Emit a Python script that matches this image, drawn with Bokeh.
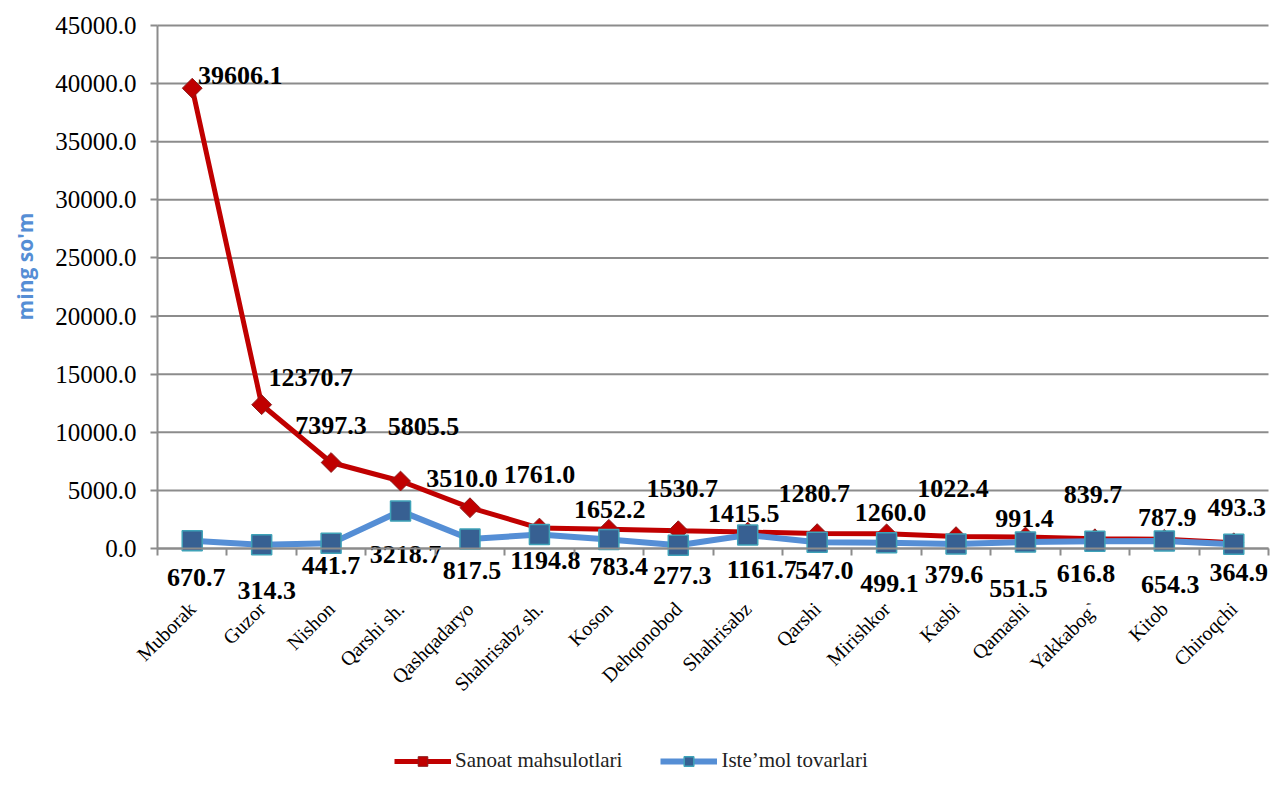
import numpy as np
from bokeh.plotting import figure
from bokeh.models import (FixedTicker, NumeralTickFormatter, Legend, LegendItem,
                          Range1d, ColumnDataSource)
from bokeh.core.properties import value
from bokeh.embed import file_html
from bokeh.resources import INLINE

# ---- data ----
districts = ["Muborak", "Guzor", "Nishon", "Qarshi sh.", "Qashqadaryo", "Shahrisabz sh.",
             "Koson", "Dehqonobod", "Shahrisabz", "Qarshi", "Mirishkor", "Kasbi",
             "Qamashi", "Yakkabog`", "Kitob", "Chiroqchi"]
sanoat = [39606.1, 12370.7, 7397.3, 5805.5, 3510.0, 1761.0, 1652.2, 1530.7,
          1415.5, 1280.7, 1260.0, 1022.4, 991.4, 839.7, 787.9, 493.3]
istemol = [670.7, 314.3, 441.7, 3218.7, 817.5, 1194.8, 783.4, 277.3,
           1161.7, 547.0, 499.1, 379.6, 551.5, 616.8, 654.3, 364.9]
y_ticks = [0, 5000, 10000, 15000, 20000, 25000, 30000, 35000, 40000, 45000]
series_names = ["Sanoat mahsulotlari", "Iste\u2019mol tovarlari"]
y_title = "ming so'm"

# ---- label placement (screen px offsets, style only) ----
red_dx = [48, 49, 0, 23, -8, 0, 1, 4, -4, -3, 4, -3, -1, -2, 3, 3]
red_dy = [-13, -27, -37, -55, -29, -54, -20, -42, -19, -40, -21, -48, -18, -44, -22, -35]
blue_dx = [4, 5, 0, 5, 2, 6, 10, 4, 14, 7, 3, -2, -7, -9, 6, 5]
blue_dy = [37, 46, 22, 43, 32, 26, 27, 30, 35, 28, 41, 30, 46, 32, 44, 28]

RED = "#C00000"
BLUE = "#558ED5"
GRID = "#8C8C8C"
SERIF = "'Liberation Serif', serif"

# layout (pixels): plot box of the original chart
W, H = 1271, 773
LEFT, RIGHT, TOP, ZERO = 157, 1268, 25, 548
n = len(districts)
y_max = y_ticks[-1]
sx = (RIGHT - LEFT) / n            # px per category
sy = (ZERO - TOP) / y_max          # px per unit
x_lo, x_hi = -LEFT / sx, (W - LEFT) / sx
y_lo, y_hi = -(H - ZERO) / sy, y_max + TOP / sy

xs = [i + 0.5 for i in range(n)]

src = ColumnDataSource(dict(
    x=xs, s=sanoat, t=istemol,
    s_lab=[f"{v:.1f}" for v in sanoat], t_lab=[f"{v:.1f}" for v in istemol],
    rdx=red_dx, rdy=red_dy, bdx=blue_dx, bdy=blue_dy,
))

p = figure(width=W, height=H, output_backend="svg", toolbar_location=None,
           x_range=Range1d(x_lo, x_hi), y_range=Range1d(y_lo, y_hi),
           min_border_left=0, min_border_right=0, min_border_top=0,
           min_border_bottom=0)
p.outline_line_color = None
p.background_fill_color = "white"
p.xgrid.visible = False
p.ygrid.visible = False

# horizontal gridlines across the category span
p.segment(x0=[0] * len(y_ticks), x1=[n] * len(y_ticks), y0=y_ticks, y1=y_ticks,
          line_color=GRID, line_width=2)

# lines + markers
r_line = p.line("x", "s", source=src, line_color=RED, line_width=5)
r_mark = p.scatter("x", "s", source=src, marker="square", angle=np.pi / 4, size=14,
                   fill_color=RED, line_color="#8B1A1A", line_width=1)
b_line = p.line("x", "t", source=src, line_color=BLUE, line_width=6)
b_mark = p.scatter("x", "t", source=src, marker="square", size=20,
                   fill_color="#376092", line_color="#3FA2B8", line_width=1.5)

# data labels
p.text("x", "s", text="s_lab", source=src, x_offset="rdx", y_offset="rdy",
       text_font=value(SERIF), text_font_style="bold", text_font_size="26px",
       text_color="black", text_align="center", text_baseline="middle")
p.text("x", "t", text="t_lab", source=src, x_offset="bdx", y_offset="bdy",
       text_font=value(SERIF), text_font_style="bold", text_font_size="26px",
       text_color="black", text_align="center", text_baseline="middle")

# y axis at x=0
yax = p.yaxis[0]
yax.fixed_location = 0
yax.bounds = (y_ticks[0], y_ticks[-1])
yax.ticker = FixedTicker(ticks=y_ticks)
yax.formatter = NumeralTickFormatter(format="0.0")
yax.major_label_text_font = SERIF
yax.major_label_text_font_size = "25px"
yax.major_label_text_color = "black"
yax.axis_line_color = GRID
yax.axis_line_width = 2
yax.major_tick_line_color = GRID
yax.major_tick_line_width = 2
yax.major_tick_out = 7
yax.major_tick_in = 0
yax.minor_tick_line_color = None
yax.major_label_standoff = 14

# y axis title
p.text(x=[x_lo + 24 / sx], y=[(ZERO - 266) / sy], text=[y_title], angle=np.pi / 2,
       text_font=value("Open Sans"), text_font_style="bold", text_font_size="21px",
       text_color=BLUE, text_align="center", text_baseline="middle")

# x axis at y=0 (labels at centres, ticks at boundaries)
xax = p.xaxis[0]
xax.fixed_location = 0
xax.bounds = (0, n)
xax.ticker = FixedTicker(ticks=xs, minor_ticks=list(range(n + 1)))
xax.major_label_overrides = {x: d for x, d in zip(xs, districts)}
xax.major_label_orientation = np.pi / 4
xax.major_label_text_font = SERIF
xax.major_label_text_font_size = "20px"
xax.major_label_text_color = "black"
xax.major_tick_line_color = None
xax.minor_tick_line_color = GRID
xax.minor_tick_line_width = 2
xax.minor_tick_out = 7
xax.minor_tick_in = 0
xax.axis_line_color = GRID
xax.axis_line_width = 2
xax.major_label_standoff = 50

legend = Legend(items=[LegendItem(label=series_names[0], renderers=[r_line, r_mark]),
                       LegendItem(label=series_names[1], renderers=[b_line, b_mark])],
                orientation="horizontal", location=(394, 0),
                glyph_width=57, glyph_height=24, label_standoff=4, spacing=38,
                padding=0, margin=0, label_text_font=SERIF,
                label_text_font_size="21px", label_text_color="#222222",
                background_fill_alpha=0, border_line_alpha=0)
p.add_layout(legend, "center")

open("out.html", "w").write(file_html(p, INLINE))
